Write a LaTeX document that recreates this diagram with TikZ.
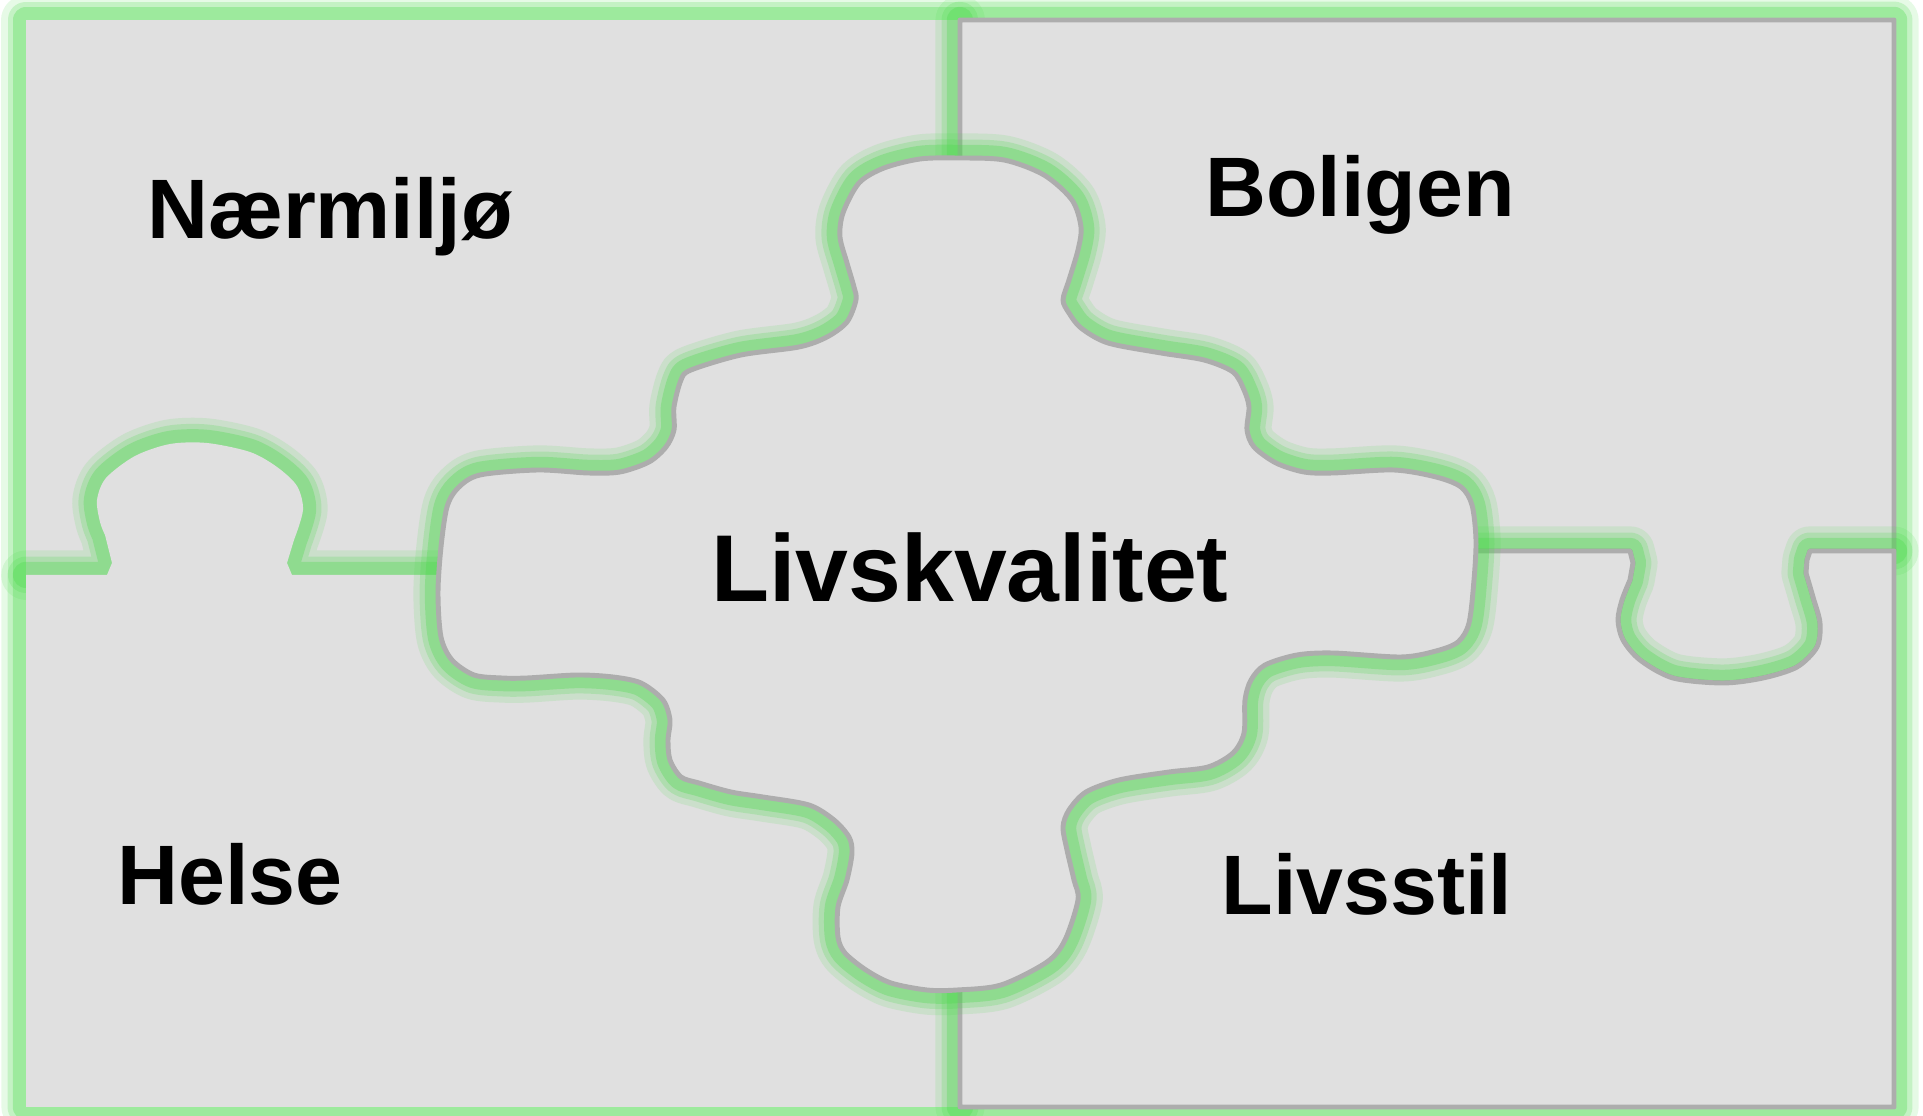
\documentclass[tikz,border=0pt]{standalone}
\usepackage{fontspec}
\newfontfamily\labelfont{Liberation Sans}

\definecolor{piecegray}{HTML}{E0E0E0}
\definecolor{rimgray}{HTML}{ADADAD}
\definecolor{glowgreen}{HTML}{4CD94C}

\tikzset{
  glowline/.style={draw=glowgreen, line join=round},
  piecefill/.style={fill=piecegray, line width=1.4pt, line join=round},
  piecetext/.style={font=\labelfont\bfseries\fontsize{24pt}{28pt}\selectfont, anchor=base, inner sep=0pt},
}

\begin{document}
\begin{tikzpicture}[x=0.01cm, y=-0.01cm]
	\useasboundingbox (0,0) rectangle (1923,1116);

	\def\leftseam {-- (292,575) -- (287,563) -- plot[smooth] coordinates {(294,540) (303,510) (297,486) (277,467) (250,452) (207,443) (170,444) (135,456) (106,478) (97,500) (100,522) (105,535)} -- (112,563) -- (107,575) -- (26,575)}  % knob of Helse
	\def\rightseam {-- (1810,551) -- (1807,560) -- plot[smooth] coordinates {(1806,573) (1813,597) (1820,623) (1817,647) (1797,667) (1763,678) (1723,683) (1673,678) (1640,660) (1623,640) (1618,620) (1622,600) (1630,580)} -- (1633,563) -- (1630,551) -- (1476,551)}  % knob of Boligen

	\def\naerpath  {(26,20) rectangle (960,575)}
	\def\helsepath {(26,1107) -- (960,1107) -- (960,575) -- (438,575) \leftseam -- cycle}
	\def\boligpath {(960,20) -- (1894,20) -- (1894,551) \rightseam -- (960,551) -- cycle}
	\def\stilpath  {(960,1107) -- (1894,1107) -- (1894,551) \rightseam -- (960,551) -- cycle}
	\def\livspath  {plot[smooth cycle] coordinates {(957,158) (1004,160) (1044,175) (1072,200) (1081,227) (1078,250) (1069,280) (1063,300) (1069,313) (1081,328) (1108,343) (1161,353) (1204,360) (1233,372) (1244,390) (1249,407) (1247,430) (1254,447) (1276,463) (1304,472) (1333,473) (1394,470) (1436,477) (1461,487) (1472,505) (1476,540) (1474,580) (1469,623) (1458,642) (1436,651) (1401,657) (1333,653) (1297,655) (1265,665) (1251,680) (1245,700) (1244,733) (1233,753) (1208,767) (1169,772) (1119,780) (1086,792) (1069,810) (1063,827) (1067,850) (1074,880) (1078,900) (1065,940) (1047,962) (1001,985) (957,990) (927,990) (891,983) (866,970) (845,953) (838,937) (838,907) (847,880) (852,853) (849,837) (834,820) (809,805) (763,797) (731,792) (699,783) (681,777) (670,760) (668,740) (670,720) (663,700) (641,683) (613,677) (577,675) (527,678) (502,678) (474,675) (452,660) (441,637) (438,593) (441,547) (447,507) (458,488) (480,475) (538,470) (588,473) (620,472) (649,462) (666,447) (674,430) (674,407) (681,380) (691,370) (741,355) (799,347) (827,337) (847,322) (856,300) (854,287) (847,263) (840,237) (843,213) (859,183) (884,168) (920,159)}}

	% pieces back to front: glow first, the fill hides its inner half
	\foreach \shape/\rim in {\naerpath/none, \helsepath/none, \boligpath/rimgray, \stilpath/rimgray, \livspath/rimgray}
	{	\foreach \w/\o in {14pt/0.14, 10.5pt/0.22, 7.5pt/0.32}
			\path[glowline, draw opacity=\o, line width=\w] \shape;
		\path[piecefill, draw=\rim] \shape;
	}

	\node[piecetext] (naer)  at (330,239)  {Nærmiljø};
	\node[piecetext] (bolig) at (1360,217) {Boligen};
	\node[piecetext] (helse) at (230,905)  {Helse};
	\node[piecetext] (stil)  at (1367,915) {Livsstil};
	\node[piecetext, font=\labelfont\bfseries\fontsize{27pt}{32pt}\selectfont] (livs) at (970,602) {Livskvalitet};
\end{tikzpicture}
\end{document}
